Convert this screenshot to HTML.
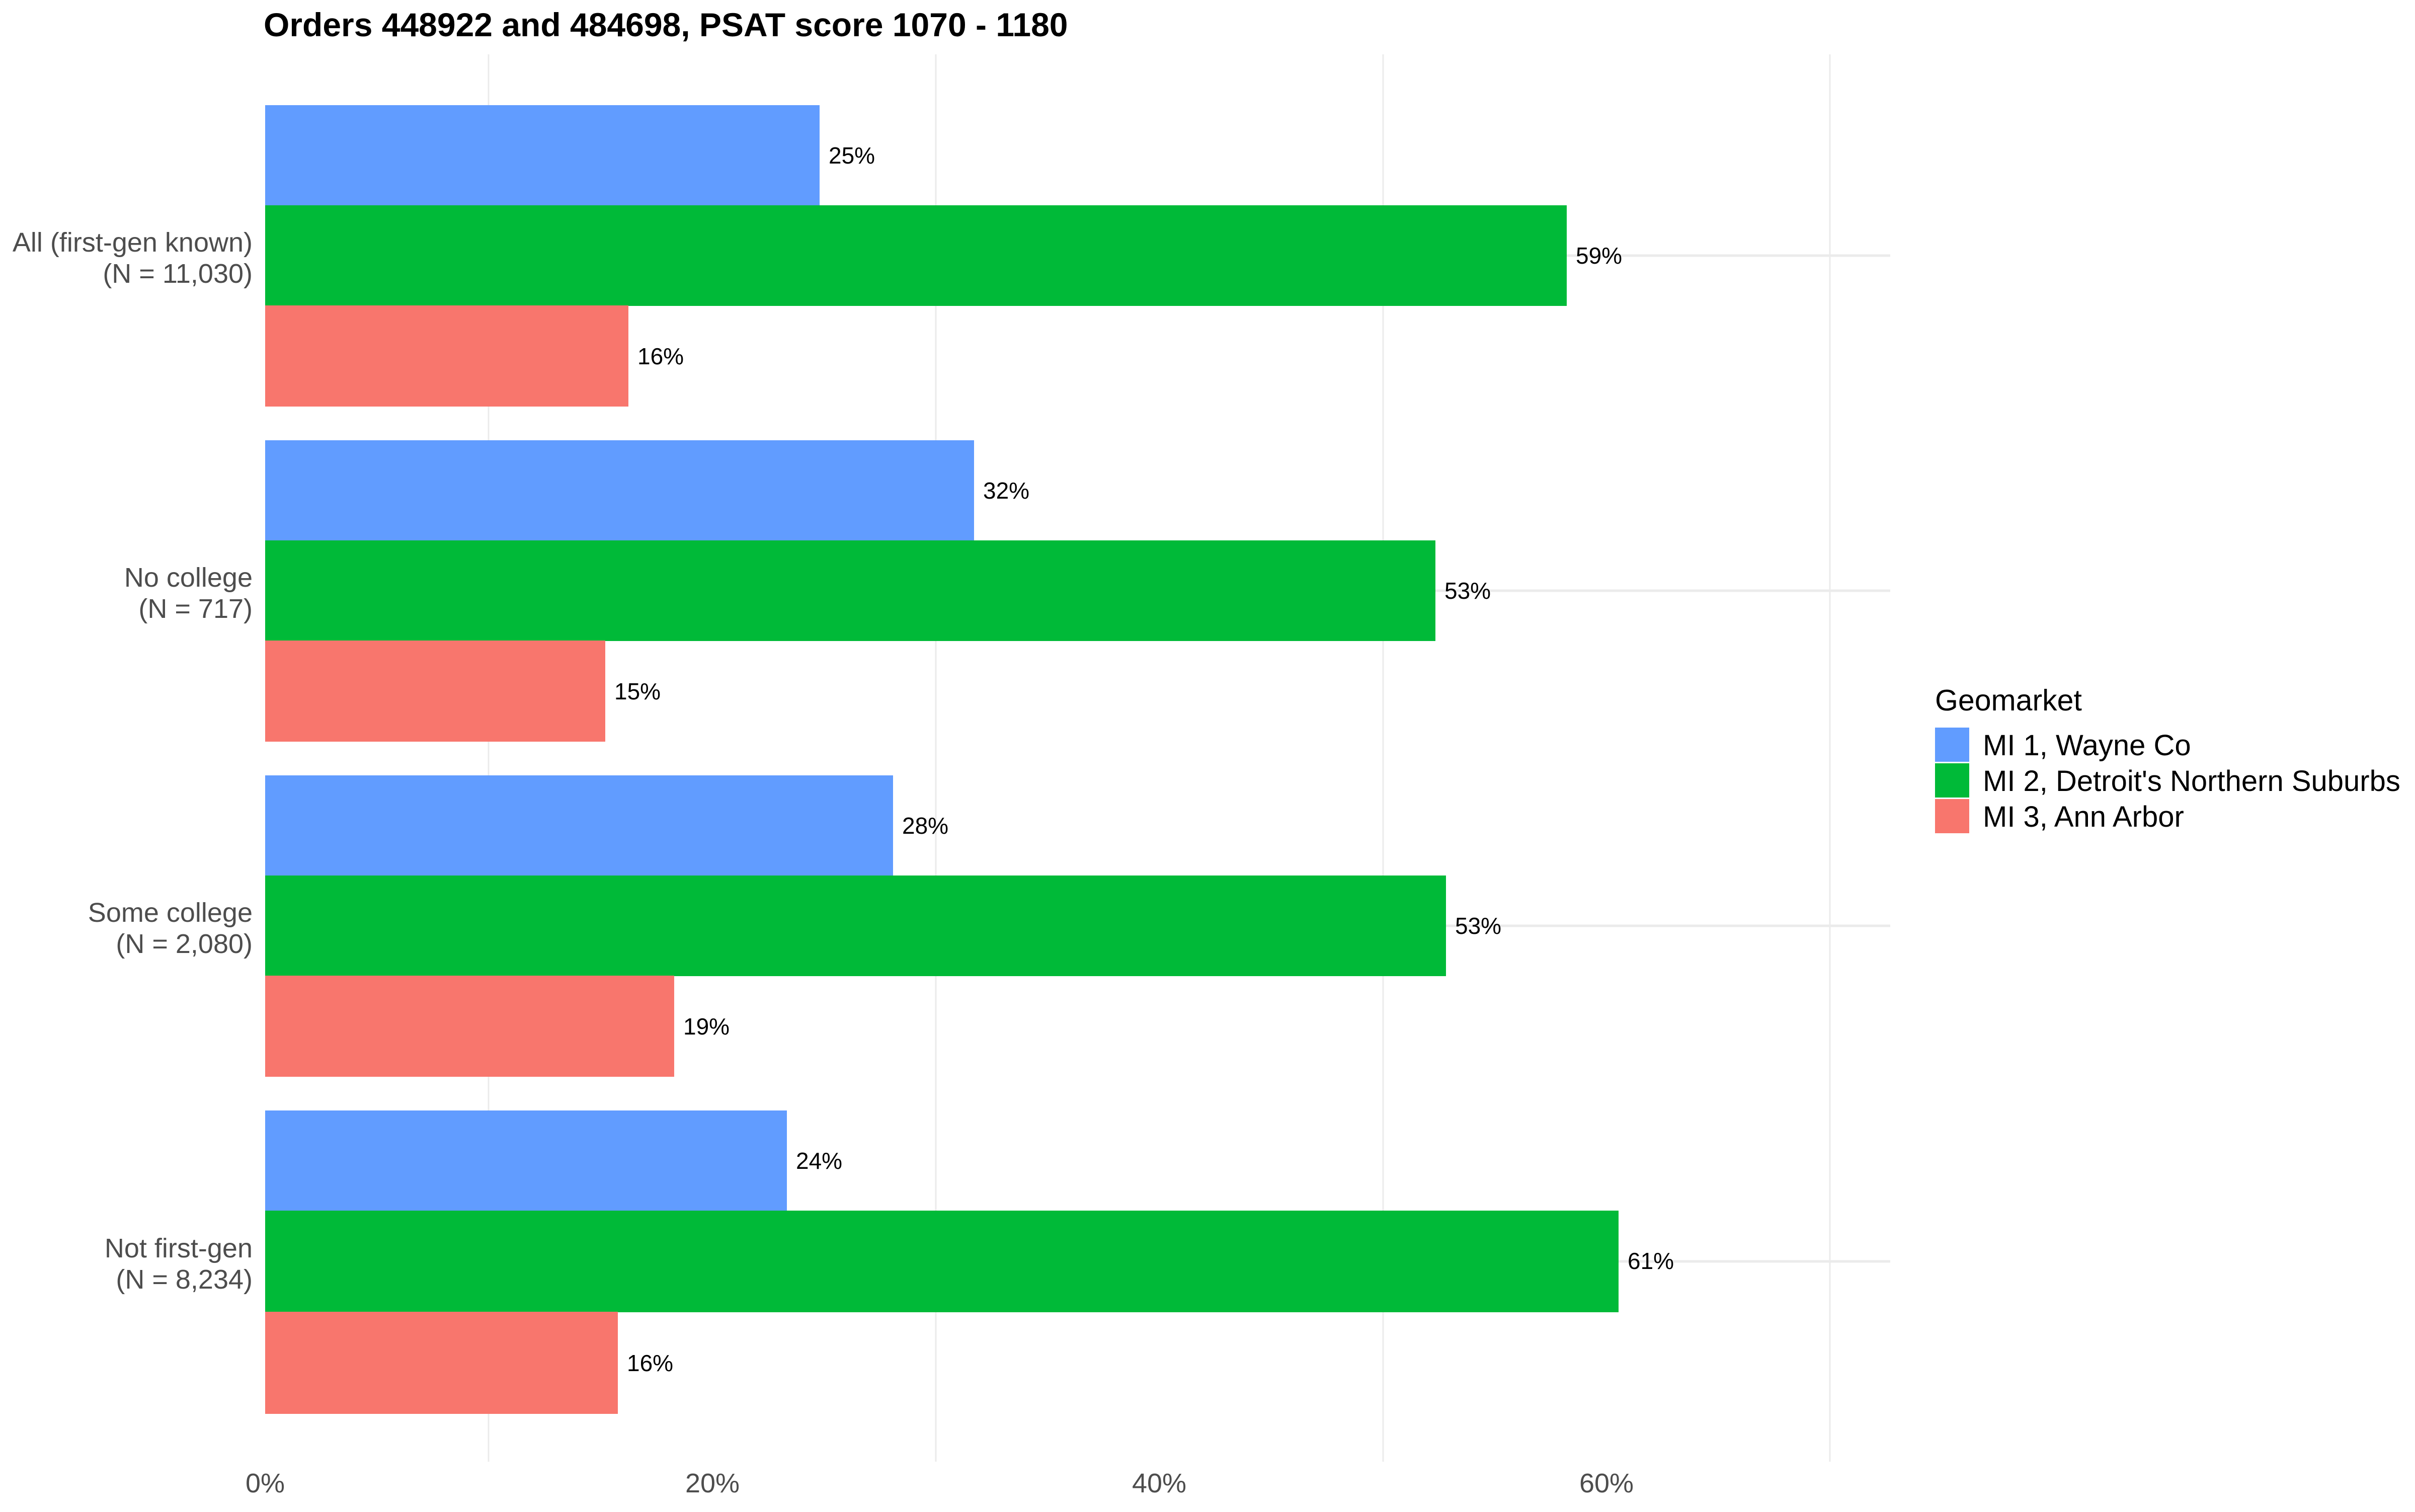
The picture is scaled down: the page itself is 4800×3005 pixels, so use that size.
<!DOCTYPE html>
<html><head><meta charset="utf-8"><style>html,body{margin:0;padding:0;background:#fff}</style></head>
<body>
<svg xmlns="http://www.w3.org/2000/svg" width="4800" height="3000" viewBox="0 0 4800 3000" font-family="Liberation Sans, Arial, sans-serif">
<rect width="4800" height="3000" fill="#fff"/>
<g stroke="#ebebeb">
<line x1="971" y1="108" x2="971" y2="2905" stroke-width="3"/>
<line x1="1860" y1="108" x2="1860" y2="2905" stroke-width="3"/>
<line x1="2749" y1="108" x2="2749" y2="2905" stroke-width="3"/>
<line x1="3637" y1="108" x2="3637" y2="2905" stroke-width="3"/>
<line x1="527" y1="508" x2="3757" y2="508" stroke-width="5"/>
<line x1="527" y1="1174" x2="3757" y2="1174" stroke-width="5"/>
<line x1="527" y1="1840" x2="3757" y2="1840" stroke-width="5"/>
<line x1="527" y1="2507" x2="3757" y2="2507" stroke-width="5"/>
</g>
<text x="524" y="72" font-size="66" font-weight="bold" fill="#000">Orders 448922 and 484698, PSAT score 1070 - 1180</text>
<g>
<rect x="527" y="209" width="1102" height="200" fill="#619CFF"/>
<rect x="527" y="408" width="2587" height="200" fill="#00BA38"/>
<rect x="527" y="607" width="722" height="201" fill="#F8766D"/>
<rect x="527" y="875" width="1409" height="200" fill="#619CFF"/>
<rect x="527" y="1074" width="2326" height="200" fill="#00BA38"/>
<rect x="527" y="1273" width="676" height="201" fill="#F8766D"/>
<rect x="527" y="1541" width="1248" height="200" fill="#619CFF"/>
<rect x="527" y="1740" width="2347" height="200" fill="#00BA38"/>
<rect x="527" y="1939" width="813" height="201" fill="#F8766D"/>
<rect x="527" y="2207" width="1037" height="200" fill="#619CFF"/>
<rect x="527" y="2406" width="2690" height="202" fill="#00BA38"/>
<rect x="527" y="2607" width="701" height="203" fill="#F8766D"/>
</g>
<g font-size="46" fill="#000">
<text x="1647" y="325">25%</text>
<text x="3132" y="524">59%</text>
<text x="1267" y="724">16%</text>
<text x="1954" y="991">32%</text>
<text x="2871" y="1190">53%</text>
<text x="1221" y="1390">15%</text>
<text x="1793" y="1657">28%</text>
<text x="2892" y="1856">53%</text>
<text x="1358" y="2056">19%</text>
<text x="1582" y="2323">24%</text>
<text x="3235" y="2522">61%</text>
<text x="1246" y="2725">16%</text>
</g>
<g font-size="54" fill="#4d4d4d" text-anchor="end">
<text x="502" y="500">All (first-gen known)</text>
<text x="502" y="562">(N = 11,030)</text>
<text x="502" y="1166">No college</text>
<text x="502" y="1228">(N = 717)</text>
<text x="502" y="1832">Some college</text>
<text x="502" y="1894">(N = 2,080)</text>
<text x="502" y="2499">Not first-gen</text>
<text x="502" y="2561">(N = 8,234)</text>
</g>
<g font-size="54" fill="#4d4d4d" text-anchor="middle">
<text x="527" y="2966">0%</text>
<text x="1416" y="2966">20%</text>
<text x="2304" y="2966">40%</text>
<text x="3193" y="2966">60%</text>
</g>
<text x="3846" y="1412" font-size="59" fill="#000">Geomarket</text>
<rect x="3846" y="1446" width="68" height="68" fill="#619CFF"/>
<rect x="3846" y="1517" width="68" height="68" fill="#00BA38"/>
<rect x="3846" y="1588" width="68" height="68" fill="#F8766D"/>
<g font-size="58" fill="#000">
<text x="3941" y="1501">MI 1, Wayne Co</text>
<text x="3941" y="1572">MI 2, Detroit's Northern Suburbs</text>
<text x="3941" y="1643">MI 3, Ann Arbor</text>
</g>
</svg>
</body></html>
